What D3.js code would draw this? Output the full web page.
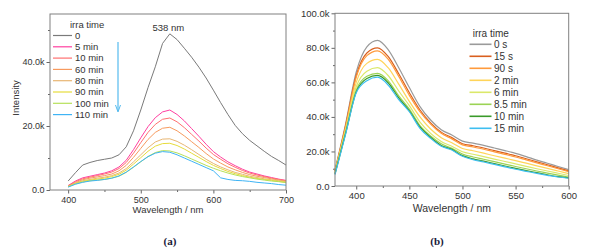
<!DOCTYPE html>
<html>
<head>
<meta charset="utf-8">
<script src="https://cdn.jsdelivr.net/npm/d3@7"></script>
<style>
  body { margin: 0; background: #fff; }
  svg { display: block; font-family: "Liberation Sans", Arial, sans-serif; }
  .axis path, .axis line { stroke: #666; }
  .axis text { fill: #333; }
</style>
</head>
<body>
<div id="chart"></div>
<script>
// ---- panel (a) data: emission spectra, intensity in counts ----
const wlA = d3.range(400, 701, 10);
const seriesA = ["0", "5 min", "10 min", "60 min", "80 min", "90 min", "100 min", "110 min"];
const colorsA = ["#7a7a7a", "#ff3fa0", "#ff7070", "#f79a5e", "#e8b673", "#e6dc3c", "#b6e05a", "#3fb4f5"];
const a_0   = [2.8,5.4,7.8,8.6,9.2,9.6,10.0,11.0,13.5,18.5,25.0,32.0,38.5,45.8,48.8,47.0,44.3,41.5,38.4,35.0,31.2,27.3,23.6,20.2,17.6,15.5,13.8,12.1,10.5,9.2,7.8];
const a_5   = [1.4,2.8,3.8,4.3,4.8,5.3,6.0,7.2,9.3,12.6,16.3,19.8,22.6,24.4,25.0,23.6,21.6,19.2,16.8,14.3,12.0,10.3,8.8,7.6,6.5,5.6,5.0,4.4,3.9,3.4,3.0];
const a_10  = [1.3,2.6,3.5,4.0,4.5,5.0,5.6,6.7,8.6,11.5,14.8,18.0,20.5,22.1,22.5,21.3,19.5,17.4,15.3,13.1,11.1,9.6,8.2,7.1,6.1,5.3,4.7,4.2,3.7,3.3,2.9];
const a_60  = [1.2,2.3,3.2,3.7,4.1,4.5,5.0,6.0,7.7,10.2,13.0,15.8,18.0,19.3,19.6,18.5,16.9,15.1,13.3,11.4,9.7,8.4,7.2,6.3,5.5,4.8,4.3,3.9,3.5,3.1,2.8];
const a_80  = [1.1,2.1,2.9,3.3,3.7,4.0,4.5,5.3,6.7,8.8,11.0,13.2,15.0,15.9,16.0,15.2,14.0,12.6,11.1,9.6,8.3,7.2,6.3,5.5,4.9,4.3,3.9,3.5,3.2,2.9,2.6];
const a_90  = [1.1,2.0,2.7,3.1,3.4,3.7,4.2,4.9,6.2,8.1,10.1,12.1,13.7,14.5,14.6,13.9,12.8,11.5,10.2,8.9,7.7,6.7,5.8,5.1,4.5,4.0,3.6,3.3,3.0,2.7,2.4];
const a_100 = [1.0,1.9,2.5,2.9,3.1,3.3,3.7,4.3,5.5,7.1,8.8,10.5,11.7,12.3,12.2,11.6,10.7,9.7,8.7,7.7,6.8,6.0,5.3,4.7,4.2,3.8,3.4,3.1,2.8,2.6,2.3];
const a_110 = [0.9,1.8,2.4,2.8,3.0,3.3,3.7,4.4,5.6,7.2,8.9,10.4,11.5,12.0,11.8,11.0,10.0,9.0,8.0,7.0,6.0,3.8,3.3,3.0,2.9,2.7,2.4,2.2,2.0,1.7,1.5];
const valuesA = [a_0, a_5, a_10, a_60, a_80, a_90, a_100, a_110];

// ---- panel (b) data ----
const wlB = d3.range(380, 601, 10);
const seriesB = ["0 s", "15 s", "90 s", "2 min", "6 min", "8.5 min", "10 min", "15 min"];
const colorsB = ["#9a9a9a", "#d95f1e", "#ff9a3c", "#ffd45a", "#dbe86a", "#9bd354", "#3a9a2a", "#3ebef0"];
const b_0s   = [9.3,36,66,80.5,84.3,79,68.5,57,46,38.2,32.6,29.5,26,24.8,23.5,22,20.5,18.9,17,15,13.2,11.3,9.5];
const b_15s  = [8.8,35,64,77,80,75,65,54,44,36.6,31.2,28,24.5,23.3,22,20.5,19,17.5,15.8,14,12.3,10.5,8.8];
const b_90s  = [8.6,34.5,63,75.5,78.3,73.5,63.5,52.5,43,35.8,30.5,27.3,23.8,22.6,21.3,19.8,18.3,16.8,15.1,13.4,11.7,10,8.3];
const b_2m   = [8.2,33,60,71,73.3,68.5,59,49,40,33,28,25,21.7,20.4,19,17.5,16.1,14.7,13.2,11.7,10.2,8.7,7.2];
const b_6m   = [7.6,32,57.5,66.5,68.5,64,55,46.5,37,30.5,25.8,23,19.8,18.4,17,15.6,14.2,12.8,11.4,10,8.7,7.4,6.1];
const b_85m  = [7.2,31,55.5,63.5,65.2,61,52.2,44.5,35,29,24.5,21.8,18.5,16.8,15.5,14.1,12.7,11.3,10,8.7,7.5,6.3,5.2];
const b_10m  = [7,30.5,54.5,62.2,64,59.8,51,43.5,34.2,28.2,23.5,21.2,17.6,15.7,14.4,13,11.6,10.2,8.9,7.7,6.5,5.4,4.7];
const b_15m  = [6.6,30,54,61,63,58.5,50,43,33.4,27.6,23,20.8,17.2,15.2,13.9,12.5,11.1,9.7,8.5,7.3,6.2,5.2,4.5];
const valuesB = [b_0s, b_15s, b_90s, b_2m, b_6m, b_85m, b_10m, b_15m];

const svg = d3.select("#chart").append("svg")
  .attr("width", 594).attr("height", 251);

const fmtK = d => d === 0 ? "0.0" : (d / 1000).toFixed(1) + "k";

function drawPanel(p) {
  const x = d3.scaleLinear().domain(p.xDomain).range([p.left, p.right]);
  const y = d3.scaleLinear().domain(p.yDomain).range([p.bottom, p.top]);
  const g = svg.append("g");

  // minor ticks
  g.append("g").attr("class", "axis")
    .attr("transform", `translate(0,${p.bottom})`)
    .call(d3.axisBottom(x).tickValues(p.xMinor).tickSize(2).tickSizeOuter(0).tickFormat(""))
    .call(s => s.select(".domain").remove());
  g.append("g").attr("class", "axis")
    .attr("transform", `translate(${p.left},0)`)
    .call(d3.axisLeft(y).tickValues(p.yMinor).tickSize(2).tickSizeOuter(0).tickFormat(""))
    .call(s => s.select(".domain").remove());

  // major ticks
  g.append("g").attr("class", "axis")
    .attr("transform", `translate(0,${p.bottom})`)
    .call(d3.axisBottom(x).tickValues(p.xTicks).tickSize(3.5).tickSizeOuter(0).tickPadding(3))
    .call(s => s.select(".domain").remove())
    .call(s => s.selectAll("text").style("font-size", p.tickFont + "px"));
  g.append("g").attr("class", "axis")
    .attr("transform", `translate(${p.left},0)`)
    .call(d3.axisLeft(y).tickValues(p.yTicks).tickSize(3.5).tickSizeOuter(0).tickPadding(2).tickFormat(fmtK))
    .call(s => s.select(".domain").remove())
    .call(s => s.selectAll("text").style("font-size", p.tickFont + "px"));

  // curves
  const line = d3.line()
    .x((d, i) => x(p.wl[i]))
    .y(d => y(d * 1000))
    .curve(p.curve);
  g.append("g").selectAll("path")
    .data(p.values)
    .join("path")
      .attr("d", line)
      .attr("fill", "none")
      .attr("stroke", (d, i) => p.colors[i])
      .attr("stroke-width", p.lineW);

  // frame
  g.append("rect")
    .attr("x", p.left).attr("y", p.top)
    .attr("width", p.right - p.left).attr("height", p.bottom - p.top)
    .attr("fill", "none").attr("stroke", "#808080").attr("stroke-width", 1);

  // axis titles
  g.append("text")
    .attr("x", (p.left + p.right) / 2).attr("y", p.xTitleY)
    .attr("text-anchor", "middle")
    .style("font-size", p.titleFont + "px").attr("fill", "#333")
    .text("Wavelength / nm");

  // legend
  const lg = g.append("g");
  lg.append("text")
    .attr("x", p.leg.titleX).attr("y", p.leg.titleY)
    .style("font-size", p.leg.font + "px").attr("fill", "#333")
    .text("irra time");
  p.names.forEach((name, i) => {
    const cy = p.leg.y0 + i * p.leg.dy;
    lg.append("line")
      .attr("x1", p.leg.x1).attr("x2", p.leg.x2)
      .attr("y1", cy).attr("y2", cy)
      .attr("stroke", p.colors[i]).attr("stroke-width", p.legW);
    lg.append("text")
      .attr("x", p.leg.tx).attr("y", cy)
      .attr("dy", "0.35em")
      .style("font-size", p.leg.font + "px").attr("fill", "#333")
      .text(name);
  });

  // panel label
  g.append("text")
    .attr("x", p.tagX).attr("y", 245)
    .attr("text-anchor", "middle")
    .style("font-family", "'Liberation Serif', 'DejaVu Serif', serif")
    .style("font-weight", "bold").style("font-size", "11px")
    .attr("fill", "#1a1a3a")
    .text(p.tag);

  return { x, y, g };
}

const A = drawPanel({
  left: 50, right: 286, top: 14, bottom: 190,
  xDomain: [375, 700], yDomain: [0, 55000],
  xTicks: [400, 500, 600, 700], xMinor: [450, 550, 650],
  yTicks: [0, 20000, 40000], yMinor: [10000, 30000, 50000],
  wl: wlA, values: valuesA, colors: colorsA, names: seriesA,
  curve: d3.curveLinear, lineW: 1, legW: 1.2,
  tickFont: 9, titleFont: 9.5, xTitleY: 213,
  leg: { titleX: 70, titleY: 28, x1: 53, x2: 72, tx: 75, y0: 35.5, dy: 11.3, font: 9.5 },
  tag: "(a)", tagX: 170
});

// y title (a)
svg.append("text")
  .attr("transform", "translate(19,98) rotate(-90)")
  .attr("text-anchor", "middle")
  .style("font-size", "9.5px").attr("fill", "#333")
  .text("Intensity");

// peak label and arrow (a)
svg.append("text")
  .attr("x", A.x(538)).attr("y", 31)
  .attr("text-anchor", "middle")
  .style("font-size", "9.5px").attr("fill", "#333")
  .text("538 nm");

svg.append("line")
  .attr("x1", 118).attr("x2", 118)
  .attr("y1", 42).attr("y2", 111)
  .attr("stroke", "#55bbee").attr("stroke-width", 1.2);
svg.append("path")
  .attr("d", "M115.5,105 L118,112 L120.5,105")
  .attr("fill", "none").attr("stroke", "#55bbee").attr("stroke-width", 1);

const B = drawPanel({
  left: 335, right: 568.7, top: 13.3, bottom: 186,
  xDomain: [380, 600], yDomain: [0, 100000],
  xTicks: [400, 450, 500, 550, 600], xMinor: [425, 475, 525, 575],
  yTicks: [0, 20000, 40000, 60000, 80000, 100000], yMinor: [10000, 30000, 50000, 70000, 90000],
  wl: wlB, values: valuesB, colors: colorsB, names: seriesB,
  curve: d3.curveMonotoneX, lineW: 1.2, legW: 1.6,
  tickFont: 9.5, titleFont: 10.5, xTitleY: 212,
  leg: { titleX: 472.7, titleY: 36.5, x1: 469.5, x2: 491.5, tx: 494, y0: 44.3, dy: 12, font: 10 },
  tag: "(b)", tagX: 437
});

// y title (b), cut at the panel edge like the source
svg.append("defs").append("clipPath").attr("id", "clipB")
  .append("rect").attr("x", 299).attr("y", 0).attr("width", 40).attr("height", 251);
svg.append("text")
  .attr("clip-path", "url(#clipB)")
  .attr("transform", "translate(307,105) rotate(-90)")
  .attr("text-anchor", "middle")
  .style("font-size", "10px").attr("fill", "#333")
  .text("Intensity");
</script>
</body>
</html>
